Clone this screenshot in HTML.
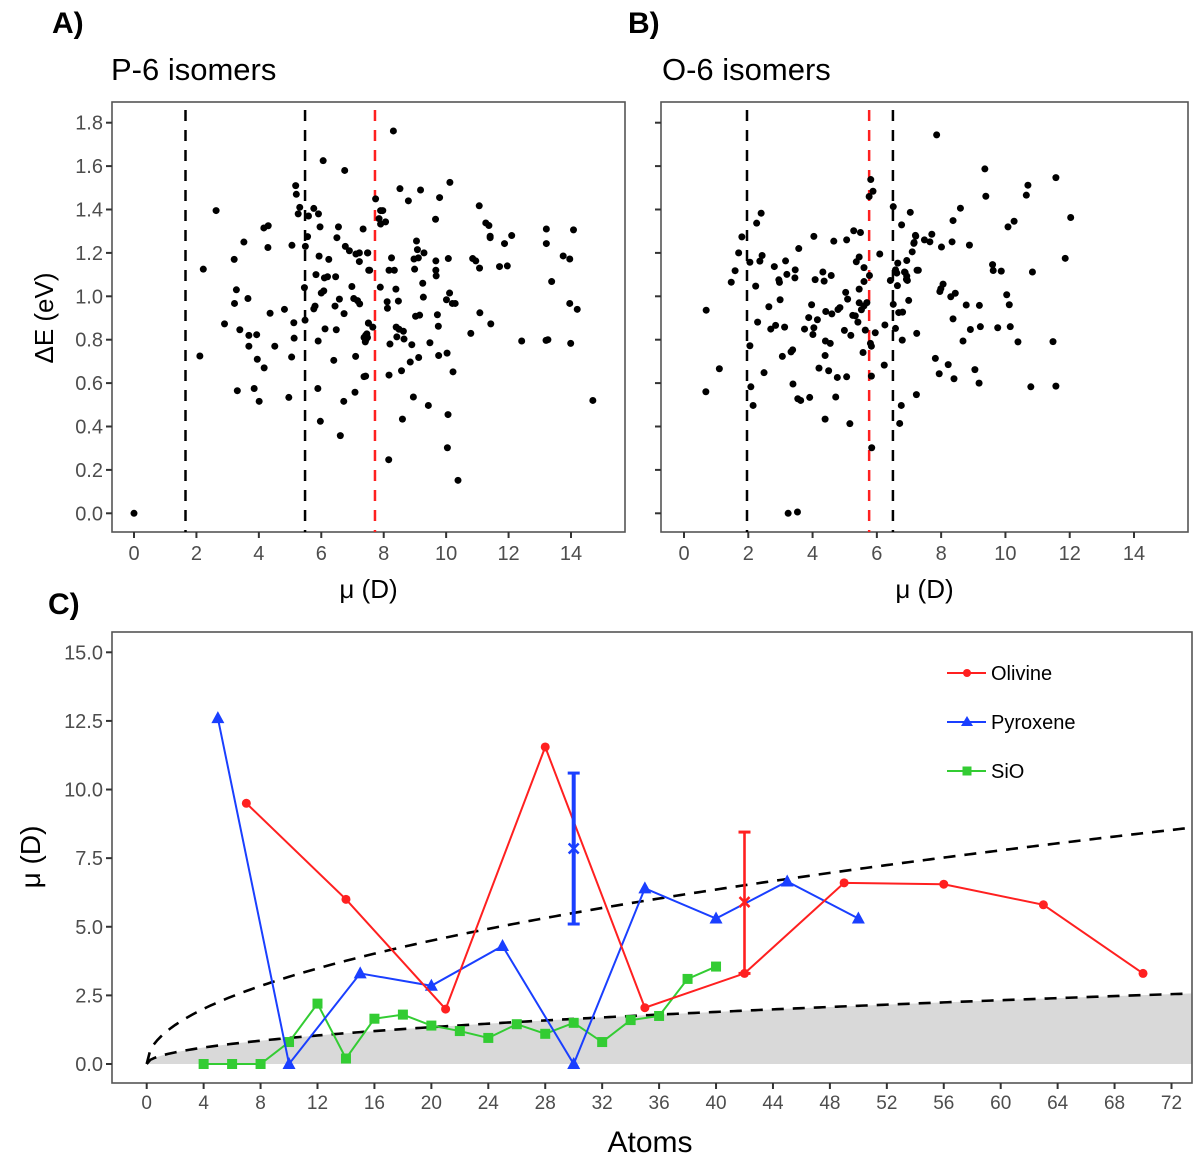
<!DOCTYPE html>
<html><head><meta charset="utf-8">
<style>
html,body{margin:0;padding:0;background:#fff;}
svg{display:block;font-family:"Liberation Sans",Arial,sans-serif;}
</style></head>
<body>
<svg id="fig" width="1200" height="1159" viewBox="0 0 1200 1159" xmlns="http://www.w3.org/2000/svg">
<defs><clipPath id="clipC"><rect x="112" y="632" width="1080" height="451"/></clipPath></defs>
</svg>
<script>
// ---------- Panel A data (P-6 isomers) ----------
const aMu=[0,2.63,2.22,2.11,3.21,3.28,3.22,3.65,2.90,3.39,3.68,3.93,3.68,3.95,4.17,3.31,3.85,4.01,3.52,4.16,4.30,4.29,4.36,4.51,4.82,4.96,5.05,5.12,5.13,5.18,5.20,5.31,5.26,5.06,5.49,5.46,5.48,5.56,5.59,5.76,5.91,5.96,5.93,5.83,6.0,6.08,5.76,5.8,5.89,5.97,5.9,6.06,6.75,6.55,6.50,6.77,6.9,7.11,7.22,7.48,6.24,7.22,6.10,6.2,6.46,6.98,7.04,7.16,7.23,6.58,6.44,6.73,6.12,6.48,6.40,6.61,6.72,7.08,7.1,7.37,7.34,7.51,7.52,7.37,7.41,7.42,8.31,8.52,9.18,10.12,8.79,9.79,7.74,11.06,7.9,7.97,7.85,7.9,8.06,9.66,11.27,11.37,11.41,11.41,12.1,11.87,13.21,13.21,14.08,9.05,9.08,9.29,8.25,8.97,9.11,9.67,10.07,10.85,10.95,13.75,13.96,7.49,7.55,8.17,8.34,8.99,9.67,9.68,11.07,11.71,11.96,13.38,7.89,8.39,9.25,10.11,10.01,10.2,10.29,8.11,8.12,8.47,9.27,13.96,14.2,9.02,9.15,9.72,11.08,7.51,7.65,7.46,7.48,7.43,11.43,9.75,8.4,8.49,8.63,8.42,10.79,8.2,8.65,8.9,9.48,12.42,13.2,13.26,13.99,9.12,8.85,9.76,10.03,7.42,8.17,8.57,10.22,8.95,9.43,14.7,8.6,10.06,10.04,8.16,10.38];
const aDE=[0,1.395,1.125,0.725,1.17,1.03,0.967,0.99,0.873,0.846,0.82,0.823,0.77,0.71,0.67,0.565,0.575,0.516,1.25,1.315,1.325,1.225,0.922,0.77,0.94,0.534,0.72,0.878,0.807,1.51,1.47,1.41,1.38,1.235,1.23,1.04,0.89,1.275,1.37,1.405,1.38,1.32,1.185,1.10,1.015,1.025,0.942,0.955,0.575,0.424,0.794,1.625,1.58,1.32,1.27,1.23,1.21,1.195,1.20,1.20,1.17,1.16,1.085,1.09,1.09,1.045,0.99,0.98,0.965,0.987,0.955,0.92,0.85,0.846,0.705,0.358,0.516,0.558,0.723,0.63,1.31,0.876,1.12,0.81,0.79,0.82,1.762,1.496,1.49,1.525,1.44,1.455,1.449,1.417,1.395,1.395,1.358,1.333,1.343,1.355,1.338,1.326,1.277,1.27,1.28,1.243,1.31,1.243,1.306,1.255,1.215,1.20,1.177,1.172,1.177,1.163,1.174,1.174,1.163,1.186,1.172,1.20,1.12,1.12,1.12,1.125,1.12,1.094,1.13,1.137,1.14,1.068,1.042,1.033,1.06,1.015,0.984,0.967,0.967,0.975,0.945,0.978,0.996,0.967,0.94,0.908,0.913,0.915,0.924,0.877,0.858,0.827,0.81,0.80,0.873,0.862,0.858,0.848,0.839,0.813,0.829,0.78,0.803,0.777,0.786,0.794,0.797,0.80,0.783,0.718,0.697,0.727,0.738,0.632,0.637,0.657,0.652,0.536,0.497,0.52,0.434,0.455,0.302,0.247,0.152];
const aVLinesBlack=[1.65,5.48];
const aVLinesRed=[7.72];
// ---------- Panel B data (O-6 isomers) ----------
const bMu=[5.81,5.88,5.76,6.51,7.04,2.4,2.26,6.77,1.8,5.28,5.49,4.04,4.66,5.06,3.57,7.2,7.16,7.1,1.7,6.09,5.45,5.36,2.05,2.36,2.43,2.81,3.16,1.59,3.2,3.46,3.45,2.95,2.97,1.47,2.23,4.32,4.36,4.58,4.08,5.6,5.77,5.6,6.65,6.58,6.62,6.88,6.92,6.42,6.64,7.25,5.45,5.03,5.09,2.99,6.99,0.69,2.64,3.97,4.41,4.6,4.79,4.85,5.45,5.69,5.6,5.52,5.25,5.33,5.41,6.51,6.68,6.8,2.29,3.88,4.15,2.7,2.85,3.13,3.75,4.04,4.01,6.25,4.99,5.19,5.64,5.95,6.58,6.79,7.24,4.4,4.55,2.05,5.8,5.83,3.38,3.33,3.06,4.39,5.57,6.23,1.1,2.49,4.2,4.5,4.77,5.06,5.83,0.68,2.08,3.39,7.23,2.15,3.54,3.63,3.91,4.72,6.76,4.39,5.16,6.71,5.84,3.24,3.53,7.86,9.36,9.39,10.7,10.65,11.57,12.03,8.37,8.6,10.08,10.27,7.21,7.15,7.48,7.65,7.71,8.01,8.34,8.88,6.93,6.86,6.93,6.95,7.29,9.6,9.62,9.87,10.84,11.86,8.06,7.99,7.96,8.3,8.44,8.78,9.19,10.04,10.12,8.37,8.91,9.22,9.76,10.15,8.68,10.39,11.48,7.82,8.22,7.94,8.4,9.05,9.18,10.79,11.57];
const bDE=[1.538,1.484,1.46,1.413,1.387,1.383,1.337,1.329,1.274,1.302,1.294,1.276,1.254,1.26,1.22,1.281,1.248,1.205,1.20,1.195,1.181,1.159,1.157,1.162,1.188,1.137,1.163,1.118,1.101,1.122,1.085,1.076,1.064,1.065,1.047,1.112,1.07,1.096,1.077,1.132,1.096,1.068,1.153,1.122,1.107,1.11,1.078,1.073,1.049,1.12,1.033,1.018,0.987,0.984,0.981,0.936,0.952,0.961,0.93,0.919,0.939,0.948,0.97,0.971,0.956,0.938,0.912,0.91,0.881,0.963,0.925,0.927,0.881,0.902,0.892,0.849,0.866,0.858,0.849,0.855,0.824,0.868,0.843,0.82,0.844,0.832,0.852,0.798,0.829,0.794,0.783,0.772,0.783,0.77,0.753,0.744,0.723,0.727,0.741,0.683,0.666,0.648,0.669,0.657,0.626,0.629,0.632,0.56,0.583,0.596,0.547,0.497,0.528,0.52,0.534,0.536,0.497,0.434,0.413,0.414,0.302,0,0.006,1.744,1.587,1.461,1.512,1.466,1.547,1.363,1.349,1.406,1.32,1.346,1.277,1.244,1.26,1.251,1.286,1.227,1.251,1.236,1.165,1.112,1.093,1.073,1.12,1.146,1.119,1.116,1.112,1.175,1.056,1.035,1.022,0.998,1.014,0.96,0.958,1.007,0.961,0.896,0.847,0.86,0.855,0.86,0.794,0.79,0.791,0.714,0.685,0.643,0.62,0.662,0.6,0.583,0.586];
const bVLinesBlack=[1.96,6.5];
const bVLinesRed=[5.76];
const scatterXTicks=[0,2,4,6,8,10,12,14];
const scatterYTicks=[0.0,0.2,0.4,0.6,0.8,1.0,1.2,1.4,1.6,1.8];
// ---------- Panel C data ----------
const olivineX=[7,14,21,28,35,42,49,56,63,70];
const olivineY=[9.5,6.0,2.0,11.55,2.05,3.3,6.6,6.55,5.8,3.3];
const pyroxeneX=[5,10,15,20,25,30,35,40,45,50];
const pyroxeneY=[12.6,0,3.3,2.85,4.3,0,6.4,5.3,6.65,5.3];
const sioX=[4,6,8,10,12,14,16,18,20,22,24,26,28,30,32,34,36,38,40];
const sioY=[0,0,0,0.8,2.2,0.2,1.65,1.8,1.4,1.2,0.95,1.45,1.1,1.5,0.8,1.6,1.75,3.1,3.55];
const errX=[30,42];
const errMid=[7.85,5.9];
const errLo=[5.1,3.3];
const errHi=[10.6,8.45];
const curveUpperCoef=1.005;
const curveLowerCoef=0.3;
const cXTicks=[0,4,8,12,16,20,24,28,32,36,40,44,48,52,56,60,64,68,72];
const cYTicks=[0,2.5,5,7.5,10,12.5,15];

const NS="http://www.w3.org/2000/svg";
const svg=document.getElementById('fig');
function mk(tag,attrs,parent){const e=document.createElementNS(NS,tag);for(const k in attrs)e.setAttribute(k,attrs[k]);(parent||svg).appendChild(e);return e;}
function txt(s,attrs,parent){const e=mk('text',attrs,parent);e.textContent=s;return e;}

let t;
t=txt('A)',{x:52,y:33,'font-size':30,'font-weight':'bold'});


t=txt('P-6 isomers',{x:111,y:80,'font-size':31});


t=txt('B)',{x:628,y:33,'font-size':30,'font-weight':'bold'});


t=txt('O-6 isomers',{x:662,y:80,'font-size':31});


t=txt('C)',{x:48,y:614,'font-size':30,'font-weight':'bold'});



function scatterPanel(name,left,right,x0px,pxPerUnit,mus,des,blackLines,redLines,showYLabels){
  const top=102,bottom=532,y0=513.3,yPer=(513.3-122.7)/1.8;
  const sx=v=>x0px+v*pxPerUnit, sy=v=>y0-v*yPer;
  const g=mk('g',{});
  
  
  const box=mk('rect',{x:left,y:top,width:right-left,height:bottom-top,fill:'none',stroke:'#555','stroke-width':1.6},g);
  
  
  scatterXTicks.forEach(v=>{
    mk('line',{x1:sx(v),x2:sx(v),y1:bottom,y2:bottom+6,stroke:'#333','stroke-width':2},g);
    const l=txt(String(v),{x:sx(v),y:bottom+28,'font-size':20,fill:'#4d4d4d','text-anchor':'middle'},g);
    
    
  });
  scatterYTicks.forEach(v=>{
    mk('line',{x1:left-6,x2:left,y1:sy(v),y2:sy(v),stroke:'#333','stroke-width':2},g);
    if(showYLabels){
      const l=txt(v.toFixed(1),{x:left-9,y:sy(v)+7,'font-size':20,fill:'#4d4d4d','text-anchor':'end'},g);
      
      
    }
  });
  blackLines.forEach(v=>{
    const l=mk('line',{x1:sx(v),x2:sx(v),y1:top+8,y2:bottom,stroke:'#000','stroke-width':2.5,'stroke-dasharray':'11 9'},g);
    
    
  });
  redLines.forEach(v=>{
    const l=mk('line',{x1:sx(v),x2:sx(v),y1:top+8,y2:bottom,stroke:'#ff2020','stroke-width':2.5,'stroke-dasharray':'11 9'},g);
    
    
  });
  mus.forEach((m,i)=>{
    const c=mk('circle',{cx:sx(m),cy:sy(des[i]),r:3.5,fill:'#000'},g);
    
    
  });
  const xl=txt('μ (D)',{x:(left+right)/2,y:598,'font-size':26,'text-anchor':'middle'},g);
  
  
}
scatterPanel('panel-a-scatter',112,625,134,(571-134)/14,aMu,aDE,aVLinesBlack,aVLinesRed,true);
scatterPanel('panel-b-scatter',661,1188,684,(1134-684)/14,bMu,bDE,bVLinesBlack,bVLinesRed,false);
t=txt('ΔE (eV)',{x:0,y:0,'font-size':26,'text-anchor':'middle',transform:'translate(53,318) rotate(-90)'});



// ---------- Panel C ----------
(function(){
  const left=112,right=1192,top=632,bottom=1083;
  const x0=146.7,xPer=(488.3-146.7)/24,y0=1064,yPer=(1064-652.3)/15;
  const sx=v=>x0+v*xPer, sy=v=>y0-v*yPer;
  const g=mk('g',{});
  
  
  const cg=mk('g',{'clip-path':'url(#clipC)'},g);
  
  
  let d='M'+sx(0)+','+sy(0);
  for(let n=0;n<=74;n+=0.5){d+=' L'+sx(n)+','+sy(curveLowerCoef*Math.sqrt(n));}
  d+=' L'+sx(74)+','+sy(0)+' Z';
  const sh=mk('path',{d:d,fill:'#d9d9d9',stroke:'none'},cg);
  
  
  function curve(coef,name){
    let p='';
    for(let n=0;n<=74;n+=0.25){p+=(n===0?'M':' L')+sx(n)+','+sy(coef*Math.sqrt(n));}
    const c=mk('path',{d:p,fill:'none',stroke:'#000','stroke-width':2.6,'stroke-dasharray':'12 9'},cg);
    
    
  }
  curve(curveUpperCoef,'upper-bound-curve');
  curve(curveLowerCoef,'lower-bound-curve');
  function series(xs,ys,color,shape,name){
    const sg=mk('g',{},g);
    
    
    const pts=xs.map((x,i)=>sx(x)+','+sy(ys[i])).join(' ');
    mk('polyline',{points:pts,fill:'none',stroke:color,'stroke-width':2},sg);
    xs.forEach((x,i)=>{
      const cx=sx(x),cy=sy(ys[i]);let m;
      if(shape==='circle')m=mk('circle',{cx:cx,cy:cy,r:4.5,fill:color},sg);
      else if(shape==='tri')m=mk('polygon',{points:`${cx},${cy-7} ${cx-6.5},${cy+5} ${cx+6.5},${cy+5}`,fill:color},sg);
      else m=mk('rect',{x:cx-5,y:cy-5,width:10,height:10,fill:color},sg);
      
      
    });
  }
  series(sioX,sioY,'#33cc33','square','sio-series');
  series(pyroxeneX,pyroxeneY,'#1a3fff','tri','pyroxene-series');
  series(olivineX,olivineY,'#ff2020','circle','olivine-series');
  const errColors=['#1a3fff','#ff2020'];
  const errW=[4,2.6];
  errX.forEach((x,i)=>{
    const eg=mk('g',{},g);
    
    
    const cx=sx(x),c=errColors[i];
    mk('line',{x1:cx,x2:cx,y1:sy(errLo[i]),y2:sy(errHi[i]),stroke:c,'stroke-width':errW[i]},eg);
    mk('line',{x1:cx-6,x2:cx+6,y1:sy(errLo[i]),y2:sy(errLo[i]),stroke:c,'stroke-width':3},eg);
    mk('line',{x1:cx-6,x2:cx+6,y1:sy(errHi[i]),y2:sy(errHi[i]),stroke:c,'stroke-width':3},eg);
    const my=sy(errMid[i]);
    mk('path',{d:`M${cx-5},${my-5} L${cx+5},${my+5} M${cx-5},${my+5} L${cx+5},${my-5}`,stroke:c,'stroke-width':2.5},eg);
  });
  const box=mk('rect',{x:left,y:top,width:right-left,height:bottom-top,fill:'none',stroke:'#555','stroke-width':1.6},g);
  
  
  cXTicks.forEach(v=>{
    mk('line',{x1:sx(v),x2:sx(v),y1:bottom,y2:bottom+6,stroke:'#333','stroke-width':2},g);
    const l=txt(String(v),{x:sx(v),y:bottom+26,'font-size':19,fill:'#4d4d4d','text-anchor':'middle'},g);
    
    
  });
  cYTicks.forEach(v=>{
    mk('line',{x1:left-6,x2:left,y1:sy(v),y2:sy(v),stroke:'#333','stroke-width':2},g);
    const l=txt(v.toFixed(1),{x:left-9,y:sy(v)+7,'font-size':20,fill:'#4d4d4d','text-anchor':'end'},g);
    
    
  });
  const xl=txt('Atoms',{x:650,y:1152,'font-size':30,'text-anchor':'middle'},g);
  
  
  const yl=txt('μ (D)',{x:0,y:0,'font-size':28,'text-anchor':'middle',transform:'translate(40,857) rotate(-90)'},g);
  
  
  const lg=mk('g',{},g);
  
  
  const entries=[['Olivine','#ff2020','circle',673],['Pyroxene','#1a3fff','tri',722],['SiO','#33cc33','square',771]];
  entries.forEach(e=>{
    const eg=mk('g',{},lg);
    
    
    const y=e[3],cx=967;
    mk('line',{x1:947,x2:986,y1:y,y2:y,stroke:e[1],'stroke-width':2},eg);
    if(e[2]==='circle')mk('circle',{cx:cx,cy:y,r:4,fill:e[1]},eg);
    else if(e[2]==='tri')mk('polygon',{points:`${cx},${y-6} ${cx-6},${y+4} ${cx+6},${y+4}`,fill:e[1]},eg);
    else mk('rect',{x:cx-4.5,y:y-4.5,width:9,height:9,fill:e[1]},eg);
    txt(e[0],{x:991,y:y+7,'font-size':20},eg);
  });
})();
</script>
</body></html>
